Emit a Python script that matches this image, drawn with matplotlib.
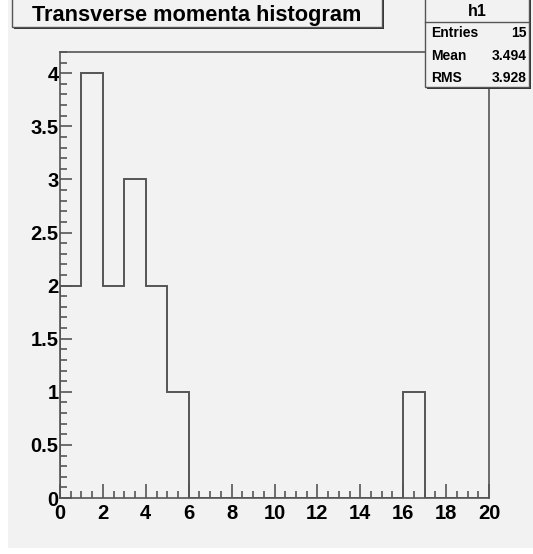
import numpy as np
import matplotlib.pyplot as plt
from matplotlib.patches import Rectangle
from matplotlib.ticker import MultipleLocator, FormatStrFormatter

plt.rcParams['font.family'] = ['Liberation Sans', 'DejaVu Sans']
plt.rcParams['font.weight'] = 'bold'

# Histogram contents (bin width 1, range 0-20)
bin_edges = np.arange(0, 21, 1)
counts = [2, 4, 2, 3, 2, 1, 0, 0, 0, 0, 0, 0, 0, 0, 0, 0, 1, 0, 0, 0]

title = 'Transverse momenta histogram'
stats_name = 'h1'
stats_labels = ['Entries', 'Mean', 'RMS']
stats_values = ['15', '3.494', '3.928']

W, H = 533, 554
bg = '#f2f2f2'
line_col = '#555555'

fig = plt.figure(figsize=(W / 100, H / 100), dpi=100, facecolor='white')


def fx(x):
    return x / W


def fy(y):
    return 1 - y / H


# canvas background
fig.patches.append(Rectangle((fx(8), fy(548)), 1 - fx(8), fy(0) - fy(548),
                             transform=fig.transFigure, facecolor=bg,
                             edgecolor='none', zorder=-10))

ax = fig.add_axes([fx(60), fy(498), fx(489) - fx(60), fy(52) - fy(498)])
ax.set_facecolor(bg)
ax.stairs(counts, bin_edges, color=line_col, linewidth=1.4)

ax.set_xlim(0, 20)
ax.set_ylim(0, 1.05 * max(counts))
ax.xaxis.set_major_locator(MultipleLocator(2))
ax.xaxis.set_minor_locator(MultipleLocator(0.5))
ax.yaxis.set_major_locator(MultipleLocator(0.5))
ax.yaxis.set_minor_locator(MultipleLocator(0.1))
ax.yaxis.set_major_formatter(FormatStrFormatter('%g'))

for s in ax.spines.values():
    s.set_color(line_col)
    s.set_linewidth(1.2)

ax.tick_params(axis='x', which='major', direction='in', length=10, width=1.2,
               color=line_col, labelsize=14.5, pad=4, top=False)
ax.tick_params(axis='x', which='minor', direction='in', length=5, width=1.2,
               color=line_col, top=False)
ax.tick_params(axis='y', which='major', direction='in', length=8.5, width=1.2,
               color=line_col, labelsize=14.5, pad=1, right=False)
ax.tick_params(axis='y', which='minor', direction='in', length=5, width=1.2,
               color=line_col, right=False)


def shadow_box(x0, y0, x1, y1):
    # dark shadow shifted right/down, then the box itself
    fig.patches.append(Rectangle((fx(x0 + 2), fy(y1 + 2)), fx(x1) - fx(x0),
                                 fy(y0) - fy(y1), transform=fig.transFigure,
                                 facecolor='#333333', edgecolor='none', zorder=5))
    fig.patches.append(Rectangle((fx(x0), fy(y1)), fx(x1) - fx(x0),
                                 fy(y0) - fy(y1), transform=fig.transFigure,
                                 facecolor=bg, edgecolor=line_col,
                                 linewidth=1.0, zorder=6))


# title box
shadow_box(12, -5, 382, 27)
fig.text(fx(197), fy(15), title, ha='center', va='center', fontsize=15.7,
         fontweight='bold', zorder=7)

# stats box
shadow_box(425, -5, 529, 87)
fig.lines.append(plt.Line2D([fx(425), fx(529)], [fy(22), fy(22)],
                            transform=fig.transFigure, color=line_col,
                            linewidth=1.0, zorder=7))
fig.text(fx(477), fy(11), stats_name, ha='center', va='center', fontsize=11.5,
         fontweight='bold', zorder=7)
for i, (lab, val) in enumerate(zip(stats_labels, stats_values)):
    yy = fy(33 + i * 22.5)
    fig.text(fx(431), yy, lab, ha='left', va='center', fontsize=10,
             fontweight='bold', zorder=7)
    fig.text(fx(527), yy, val, ha='right', va='center', fontsize=10,
             fontweight='bold', zorder=7)

fig.savefig('out.png', dpi=100, facecolor='white')
